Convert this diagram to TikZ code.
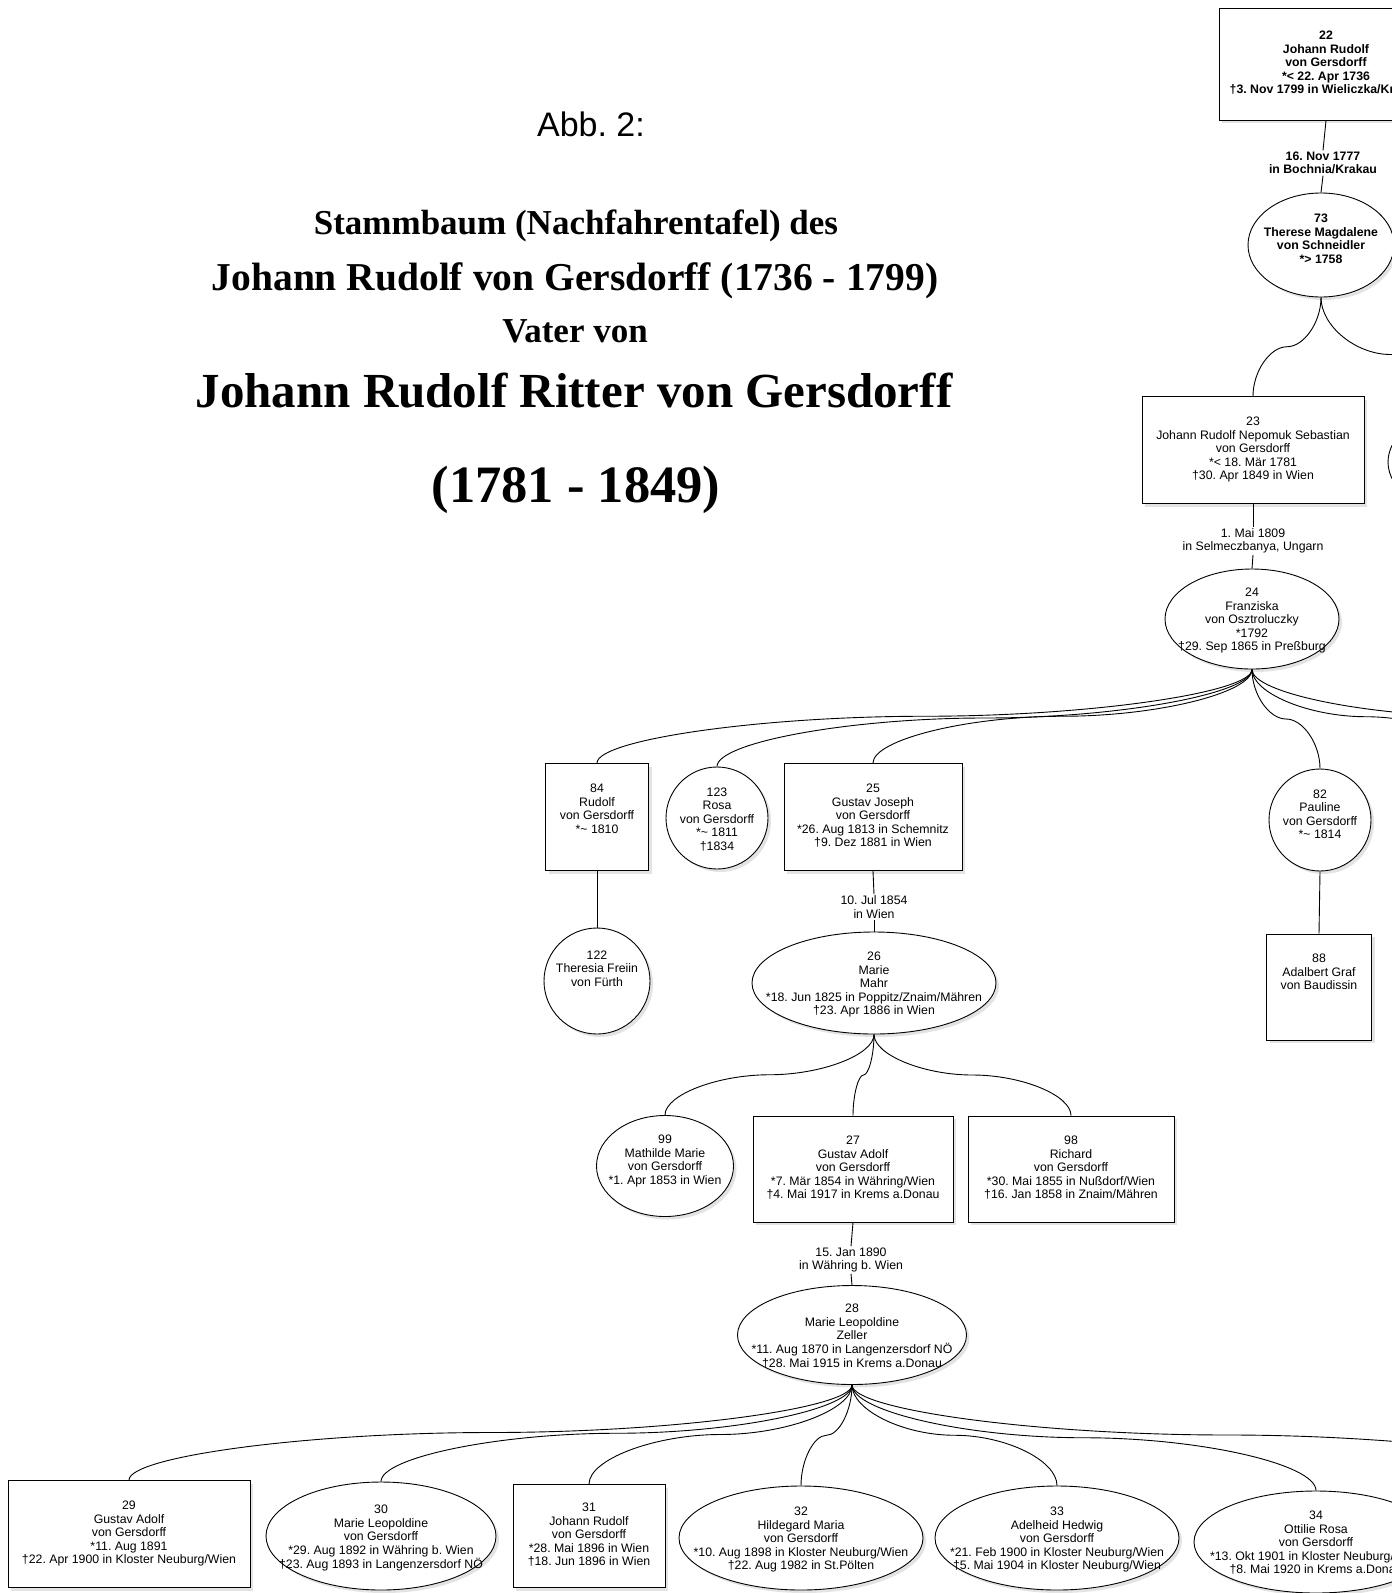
\documentclass[tikz,border=0pt]{standalone}
\usepackage{fontspec}
\setmainfont{Liberation Sans}
\newfontfamily\titelfont{Liberation Serif}
\usetikzlibrary{shapes.geometric,shadows,calc}
\frenchspacing

\tikzstyle{person} = [draw, fill=white, inner sep=-60pt, text height=9pt,
  font=\fontsize{12.3}{13.5}\selectfont,
  drop shadow={shadow xshift=3pt,shadow yshift=-3pt,fill=black!22}]
\tikzstyle{kasten} = [person, rectangle, text depth=58pt]
\tikzstyle{oval} = [person, ellipse, text depth=54pt]
\tikzstyle{kreis} = [person, circle, text depth=53pt]
\tikzstyle{heirat} = [align=center, inner sep=1pt, font=\fontsize{12.3}{13.5}\selectfont]
\tikzstyle{titel} = [inner sep=0pt, font=\titelfont\bfseries]

% Zeilen oben ausgerichtet
\newcommand{\zeilen}[1]{\begin{tabular}[t]{@{}c@{}}#1\end{tabular}}

% Verbindung Eltern -> Kind
\newcommand{\verbinde}[2]{\draw let \p1=(#1), \p2=(#2) in
  (\p1) .. controls (\x1,{0.75*\y1+0.25*\y2}) and ({0.75*\x1+0.25*\x2},{0.5*\y1+0.5*\y2}) ..
  ({0.5*\x1+0.5*\x2},{0.5*\y1+0.5*\y2}) .. controls ({0.25*\x1+0.75*\x2},{0.5*\y1+0.5*\y2}) and (\x2,{0.25*\y1+0.75*\y2}) .. (\p2);}

\begin{document}
\begin{tikzpicture}[x=1pt,y=-1pt,line width=0.9pt]
\useasboundingbox (0,0) rectangle (1392,1593);
\begin{scope}
\clip (0,0) rectangle (1392,1593);

% Titel
\node[inner sep=0pt,font=\fontsize{34}{40}\selectfont] (abb) at (591,124) {Abb. 2:};
\node[titel] (t1) at (576,226) {\fontsize{35}{40}\selectfont Stammbaum (Nachfahrentafel) des};
\node[titel] (t2) at (575,281) {\fontsize{39.5}{44}\selectfont Johann Rudolf von Gersdorff (1736 - 1799)};
\node[titel] (t3) at (575,331) {\fontsize{35}{40}\selectfont Vater von};
\node[titel] (t4) at (574,391) {\fontsize{49}{54}\selectfont Johann Rudolf Ritter von Gersdorff};
\node[titel] (t5) at (576,490) {\fontsize{52.5}{58}\selectfont (1781 - 1849)};

% Generation 1
\node[kasten,minimum width=214,minimum height=112,font=\fontsize{12.3}{13.5}\selectfont\bfseries] (n22) at (1326,64)
  {\zeilen{22\\Johann Rudolf\\von Gersdorff\\{}*< 22. Apr 1736\\†3. Nov 1799 in Wieliczka/Krakau}};
\node[heirat,font=\fontsize{12.3}{13.5}\selectfont\bfseries] (h22) at (1323,163) {16. Nov 1777\\in Bochnia/Krakau};
\node[oval,minimum width=146,minimum height=104,font=\fontsize{12.3}{13.5}\selectfont\bfseries] (n73) at (1321,245)
  {\zeilen{73\\Therese Magdalene\\von Schneidler\\{}*> 1758}};

% Generation 2
\node[kasten,minimum width=222,minimum height=107] (n23) at (1253,450)
  {\zeilen{23\\Johann Rudolf Nepomuk Sebastian\\von Gersdorff\\{}*< 18. Mär 1781\\†30. Apr 1849 in Wien}};
\node[oval,minimum width=144,minimum height=100] (n23b) at (1460,462) {};
\node[heirat] (h23) at (1253,541) {1. Mai 1809\\in Selmeczbanya, Ungarn};
\node[oval,minimum width=174,minimum height=100] (n24) at (1252,619)
  {\zeilen{24\\Franziska\\von Osztroluczky\\{}*1792\\†29. Sep 1865 in Preßburg}};

% Generation 3
\node[kasten,minimum width=103,minimum height=107] (n84) at (597,817)
  {\zeilen{84\\Rudolf\\von Gersdorff\\{}*\textasciitilde\ 1810}};
\node[kreis,minimum size=102] (n123) at (717,818)
  {\zeilen{123\\Rosa\\von Gersdorff\\{}*\textasciitilde\ 1811\\†1834}};
\node[kasten,minimum width=178,minimum height=107] (n25) at (873,817)
  {\zeilen{25\\Gustav Joseph\\von Gersdorff\\{}*26. Aug 1813 in Schemnitz\\†9. Dez 1881 in Wien}};
\node[kreis,minimum size=102] (n82) at (1320,820)
  {\zeilen{82\\Pauline\\von Gersdorff\\{}*\textasciitilde\ 1814}};
\coordinate (r1) at (1480,764);
\coordinate (r2) at (1720,764);
\node[kreis,minimum size=106] (n122) at (597,981)
  {\zeilen{122\\Theresia Freiin\\von Fürth}};
\node[kasten,minimum width=105,minimum height=106] (n88) at (1319,987)
  {\zeilen{88\\Adalbert Graf\\von Baudissin}};
\node[heirat] (h25) at (874,907) {10. Jul 1854\\in Wien};
\node[oval,minimum width=244,minimum height=102] (n26) at (874,983)
  {\zeilen{26\\Marie\\Mahr\\{}*18. Jun 1825 in Poppitz/Znaim/Mähren\\†23. Apr 1886 in Wien}};

% Generation 4
\node[oval,minimum width=137,minimum height=101] (n99) at (665,1166)
  {\zeilen{99\\Mathilde Marie\\von Gersdorff\\{}*1. Apr 1853 in Wien}};
\node[kasten,minimum width=200,minimum height=106] (n27) at (853,1169)
  {\zeilen{27\\Gustav Adolf\\von Gersdorff\\{}*7. Mär 1854 in Währing/Wien\\†4. Mai 1917 in Krems a.Donau}};
\node[kasten,minimum width=206,minimum height=106] (n98) at (1071,1169)
  {\zeilen{98\\Richard\\von Gersdorff\\{}*30. Mai 1855 in Nußdorf/Wien\\†16. Jan 1858 in Znaim/Mähren}};
\node[heirat] (h27) at (851,1260) {15. Jan 1890\\in Währing b. Wien};
\node[oval,minimum width=229,minimum height=99] (n28) at (852,1335)
  {\zeilen{28\\Marie Leopoldine\\Zeller\\{}*11. Aug 1870 in Langenzersdorf NÖ\\†28. Mai 1915 in Krems a.Donau}};

% Generation 5
\node[kasten,minimum width=242,minimum height=107] (n29) at (129,1534)
  {\zeilen{29\\Gustav Adolf\\von Gersdorff\\{}*11. Aug 1891\\†22. Apr 1900 in Kloster Neuburg/Wien}};
\node[oval,minimum width=230,minimum height=108] (n30) at (381,1536)
  {\zeilen{30\\Marie Leopoldine\\von Gersdorff\\{}*29. Aug 1892 in Währing b. Wien\\†23. Aug 1893 in Langenzersdorf NÖ}};
\node[kasten,minimum width=152,minimum height=103] (n31) at (589,1536)
  {\zeilen{31\\Johann Rudolf\\von Gersdorff\\{}*28. Mai 1896 in Wien\\†18. Jun 1896 in Wien}};
\node[oval,minimum width=244,minimum height=104] (n32) at (801,1538)
  {\zeilen{32\\Hildegard Maria\\von Gersdorff\\{}*10. Aug 1898 in Kloster Neuburg/Wien\\†22. Aug 1982 in St.Pölten}};
\node[oval,minimum width=244,minimum height=104] (n33) at (1057,1538)
  {\zeilen{33\\Adelheid Hedwig\\von Gersdorff\\{}*21. Feb 1900 in Kloster Neuburg/Wien\\†5. Mai 1904 in Kloster Neuburg/Wien}};
\node[oval,minimum width=244,minimum height=102] (n34) at (1316,1542)
  {\zeilen{34\\Ottilie Rosa\\von Gersdorff\\{}*13. Okt 1901 in Kloster Neuburg/Wien\\†8. Mai 1920 in Krems a.Donau}};
\coordinate (r3) at (1600,1485);

% Verbindungen
\draw (n22.south) -- (h22.north);
\draw (h22.south) -- (n73.north);
\verbinde{n73.south}{n23.north}
\verbinde{n73.south}{n23b.north}
\draw (n23.south) -- (h23.north);
\draw (h23.south) -- (n24.north);
\verbinde{n24.south}{n84.north}
\verbinde{n24.south}{n123.north}
\verbinde{n24.south}{n25.north}
\verbinde{n24.south}{n82.north}
\verbinde{n24.south}{r1}
\verbinde{n24.south}{r2}
\draw (n84.south) -- (n122.north);
\draw (n82.south) -- (n88.north);
\draw (n25.south) -- (h25.north);
\draw (h25.south) -- (n26.north);
\verbinde{n26.south}{n99.north}
\verbinde{n26.south}{n27.north}
\verbinde{n26.south}{n98.north}
\draw (n27.south) -- (h27.north);
\draw (h27.south) -- (n28.north);
\verbinde{n28.south}{n29.north}
\verbinde{n28.south}{n30.north}
\verbinde{n28.south}{n31.north}
\verbinde{n28.south}{n32.north}
\verbinde{n28.south}{n33.north}
\verbinde{n28.south}{n34.north}
\verbinde{n28.south}{r3}
\end{scope}
\end{tikzpicture}
\end{document}
